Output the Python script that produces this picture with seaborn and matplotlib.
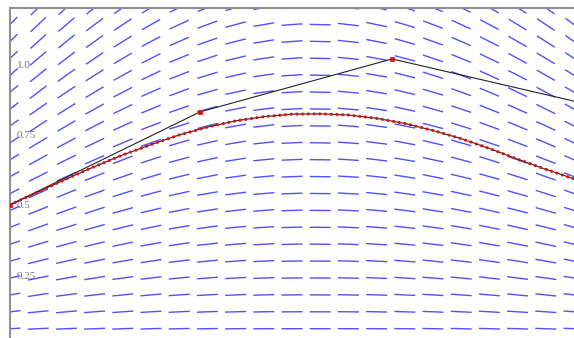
import numpy as np
import pandas as pd
import seaborn as sns
import matplotlib.pyplot as plt
from matplotlib.collections import LineCollection
from matplotlib.ticker import FixedLocator, MultipleLocator

# direction field grid (x columns, y rows) and per-column slope factor
field_x = [0.0, 0.1, 0.2, 0.3, 0.4, 0.5, 0.6, 0.7, 0.8, 0.9, 1.0,
           1.1, 1.2, 1.3, 1.4, 1.5, 1.6, 1.7, 1.8, 1.9, 2.0]
field_y = [0.0, 0.06, 0.12, 0.18, 0.24, 0.30, 0.36, 0.42, 0.48, 0.54, 0.60,
           0.66, 0.72, 0.78, 0.84, 0.90, 0.96, 1.02, 1.08, 1.14, 1.20]
col_rate = [0.92, 0.834, 0.749, 0.663, 0.578, 0.492, 0.406, 0.321, 0.235, 0.150, 0.064,
            -0.02, -0.10, -0.18, -0.26, -0.33, -0.40, -0.47, -0.53, -0.59, -0.65]

# solution curve
curve_x = [0.0, 0.1, 0.2, 0.3, 0.4, 0.5, 0.6, 0.7, 0.8, 0.9, 1.0,
           1.1, 1.2, 1.3, 1.4, 1.5, 1.6, 1.7, 1.8, 1.9, 2.0]
curve_y = [0.5, 0.546, 0.592, 0.636, 0.677, 0.714, 0.748, 0.776, 0.798, 0.813, 0.822,
           0.823, 0.819, 0.807, 0.789, 0.764, 0.735, 0.700, 0.662, 0.626, 0.592]

# Euler steps
euler_x = [0.0, 0.674, 1.355, 2.035]
euler_y = [0.5, 0.83, 1.018, 0.86]

tick_vals = [0.25, 0.5, 0.75, 1.0]
tick_text = ["0.25", "0.5", "0.75", "1.0"]

sns.set_style("white")
plt.rcParams["font.family"] = ["Liberation Serif", "DejaVu Serif"]

fig = plt.figure(figsize=(5.74, 3.38), dpi=100)
ax = fig.add_axes([10 / 574, -7.6 / 338, 564 / 574, 1 - 7.7 / 338 + 7.6 / 338])
ax.set_xlim(0, 2.0)
ax.set_ylim(0, 1.2)

# slope segments, fixed length in pixels, centred on grid points
seg_len = 21.0
px_x = 564 / 2.0
px_y = (338 - 7.7 + 7.6) / 1.2
segs = []
for xi, k in zip(field_x, col_rate):
    for yj in field_y:
        s = yj * k * px_y / px_x  # slope in display space
        theta = np.arctan(s)
        dx = 0.5 * seg_len * np.cos(theta) / px_x
        dy = 0.5 * seg_len * np.sin(theta) / px_y
        segs.append([(xi - dx, yj - dy), (xi + dx, yj + dy)])
ax.add_collection(LineCollection(segs, colors="#5050ff", linewidths=1.0, zorder=1))

df_curve = pd.DataFrame({"x": curve_x, "y": curve_y})
df_euler = pd.DataFrame({"x": euler_x, "y": euler_y})

sns.lineplot(data=df_curve, x="x", y="y", color="#222222", lw=0.8, sort=False,
             estimator=None, ax=ax, zorder=3)
ax.plot(curve_x, curve_y, color="#e01010", lw=2.3, dashes=(0.01, 1.78),
        dash_capstyle="round", zorder=4)
sns.lineplot(data=df_euler, x="x", y="y", color="#222222", lw=0.8, sort=False,
             estimator=None, ax=ax, zorder=3)
ax.plot(euler_x, euler_y, ls="none", marker="s", ms=2.8, color="#e01010",
        mec="#b00000", mew=0.4, zorder=5)

ax.set_xlabel("")
ax.set_ylabel("")
ax.set_xticks([])
ax.yaxis.set_major_locator(FixedLocator(tick_vals))
ax.set_yticklabels(tick_text)
ax.yaxis.set_minor_locator(MultipleLocator(0.05))
ax.tick_params(axis="y", which="major", direction="in", length=5, width=0.8,
               color="#555555", pad=-5, labelsize=8, labelcolor="#777777")
ax.tick_params(axis="y", which="minor", direction="in", length=3, width=0.8,
               color="#555555")
for lab in ax.get_yticklabels():
    lab.set_horizontalalignment("left")

for side in ["right", "bottom"]:
    ax.spines[side].set_visible(False)
for side in ["left", "top"]:
    ax.spines[side].set_color("#909090")
    ax.spines[side].set_linewidth(1.5)

fig.savefig("out.png", dpi=100)
